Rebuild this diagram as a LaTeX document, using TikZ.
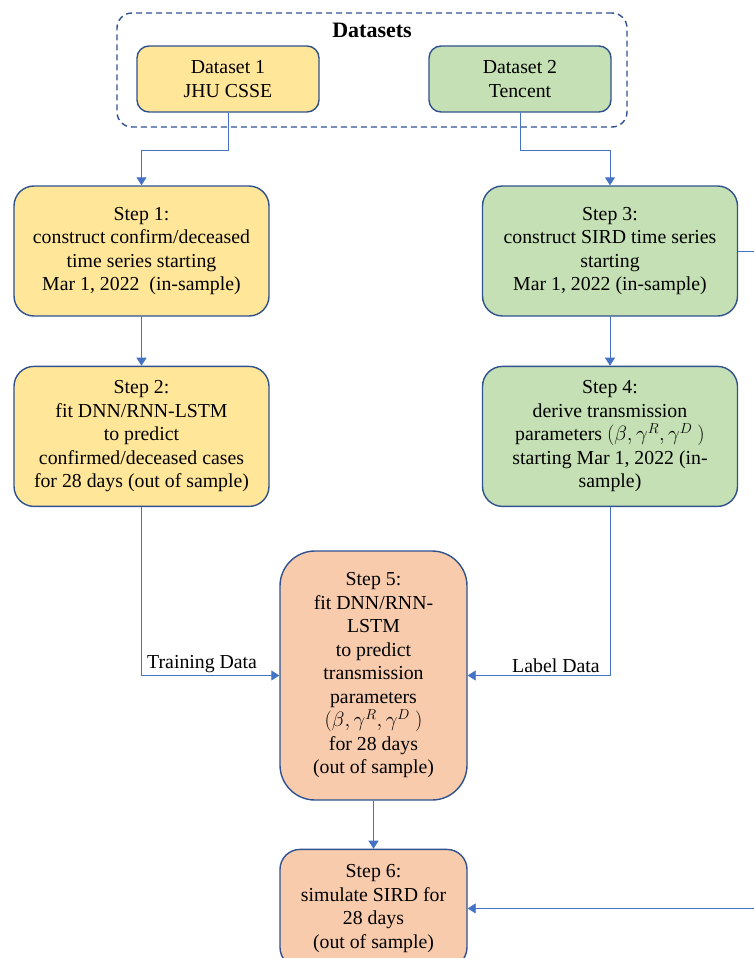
\documentclass[tikz,border=0pt]{standalone}
\usepackage{fontspec}
\setmainfont{Liberation Serif}
\usepackage{tikz}
\usetikzlibrary{arrows.meta,positioning}
\definecolor{edgeblue}{RGB}{47,82,143}
\definecolor{wireblue}{RGB}{68,114,196}
\definecolor{sunyellow}{RGB}{255,230,153}
\definecolor{sagegreen}{RGB}{197,224,180}
\definecolor{peach}{RGB}{248,203,173}

\begin{document}
\begin{tikzpicture}[x=1pt, y=-1pt,
  font=\fontsize{19.8}{23.5}\selectfont,
  box/.style={draw=edgeblue, line width=1.4pt, rounded corners=20pt, align=center,
              inner sep=0pt, minimum width=255pt, minimum height=130pt},
  dsbox/.style={box, rounded corners=12pt, minimum width=182pt, minimum height=66pt},
  groupbox/.style={draw=edgeblue, line width=1.4pt, dashed, dash pattern=on 6pt off 4pt,
              rounded corners=15pt, minimum width=510pt, minimum height=114pt},
  conn/.style={-{Triangle[length=8pt, width=10pt]}, line width=0.9pt, color=wireblue},
  wire/.style={line width=0.9pt, color=wireblue},
  lbl/.style={inner sep=2pt, text=black}]
\useasboundingbox (0,0) rectangle (754,958);
% datasets
\node[groupbox] (grp) at (372,70) {};
\node[font=\fontsize{22}{26}\selectfont\bfseries] (ttl) at (372,30) {Datasets};
\node[dsbox, fill=sunyellow] (ds1) at (228,79) {Dataset 1\\JHU CSSE};
\node[dsbox, fill=sagegreen] (ds2) at (520,79) {Dataset 2\\Tencent};
% steps
\node[box, fill=sunyellow] (s1) at (141.5,251)
  {Step 1:\\construct confirm/deceased\\time series starting\\Mar 1, 2022~ (in-sample)};
\node[box, fill=sunyellow, minimum height=140pt, below=49pt of s1] (s2)
  {Step 2:\\fit DNN/RNN-LSTM\\to predict\\confirmed/deceased cases\\for 28 days (out of sample)};
\node[box, fill=sagegreen] (s3) at (610,251)
  {Step 3:\\construct SIRD time series\\starting\\Mar 1, 2022 (in-sample)};
\node[box, fill=sagegreen, minimum height=140pt, below=49pt of s3] (s4)
  {Step 4:\\derive transmission\\parameters $(\beta,\gamma^R,\gamma^D\ )$\\starting Mar 1, 2022 (in-\\sample)};
\node[box, fill=peach, rounded corners=35pt, minimum width=187pt, minimum height=249pt] (s5) at (373.5,675.5)
  {Step 5:\\fit DNN/RNN-\\LSTM\\to predict\\transmission\\parameters\\$(\beta,\gamma^R,\gamma^D\ )$\\for 28 days\\(out of sample)};
\node[box, fill=peach, minimum width=187pt, minimum height=118pt, below=48pt of s5] (s6)
  {Step 6:\\simulate SIRD for\\28 days\\(out of sample)};
\coordinate (rim) at (754,0);
% connectors
\draw[conn] (ds1.south) -- ++(0,38) -| (s1.north);
\draw[conn] (ds2.south) -- ++(0,38) -| (s3.north);
\draw[conn] (s1) -- (s2);
\draw[conn] (s3) -- (s4);
\draw[conn] (s2.south) |- (s5.west) node[lbl, pos=0.72, above] {Training Data};
\draw[conn] (s4.south) |- (s5.east) node[lbl, pos=0.69, above] {Label Data};
\draw[conn] (s5) -- (s6);
\draw[wire] (s3.east) -- (s3.east -| rim);
\draw[conn] (s6.east -| rim) -- (s6.east);
\end{tikzpicture}
\end{document}
